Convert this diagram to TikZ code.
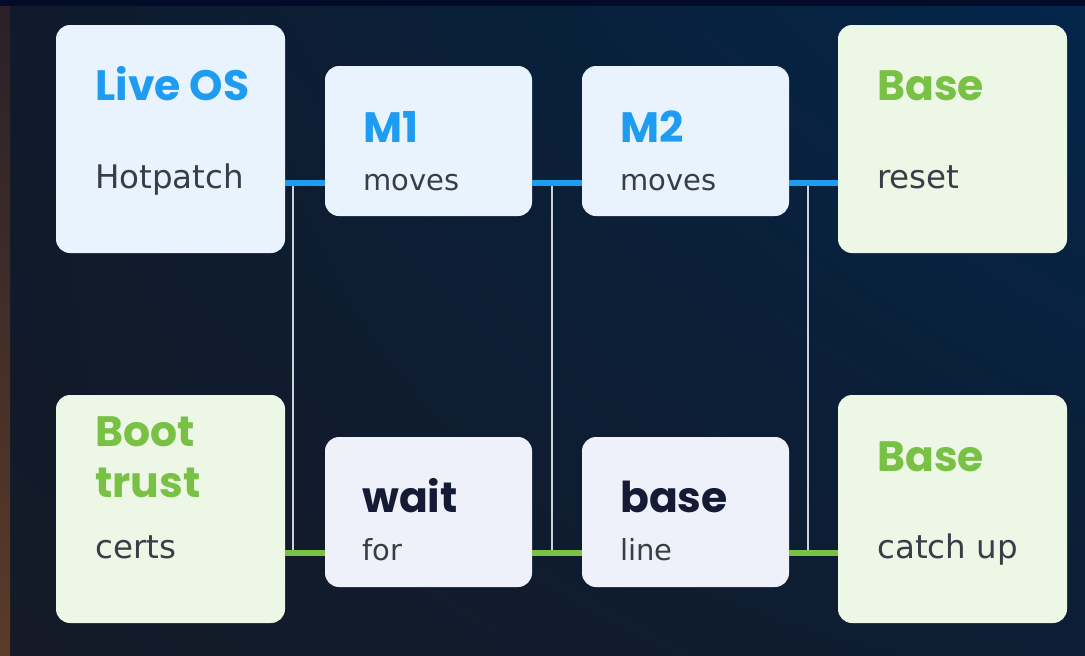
\documentclass[tikz,border=0pt]{standalone}
\usepackage{fontspec}
\usetikzlibrary{shadings}
\newfontfamily\ttlfont{Poppins}
\newfontfamily\subfont{DejaVu Sans}
\definecolor{bgUL}{HTML}{0F1A2C}
\definecolor{bgUR}{HTML}{03264A}
\definecolor{bgLL}{HTML}{141A27}
\definecolor{bgLR}{HTML}{0D1D33}
\definecolor{stripTop}{HTML}{020B28}
\definecolor{edgeA}{HTML}{2A2029}
\definecolor{edgeM}{HTML}{4A3226}
\definecolor{edgeB}{HTML}{5B3B28}
\definecolor{fillBlue}{HTML}{E8F3FD}
\definecolor{fillGreen}{HTML}{ECF7E5}
\definecolor{fillGrey}{HTML}{EEF1FA}
\definecolor{accBlue}{HTML}{1E9CF2}
\definecolor{accGreen}{HTML}{78C144}
\definecolor{inkDark}{HTML}{151A35}
\definecolor{inkSub}{HTML}{383E48}
\definecolor{railGrey}{HTML}{CDD2DA}
\tikzset{
  card/.style={rectangle, rounded corners=14pt, inner sep=0pt, outer sep=0pt,
               anchor=north west, draw=none},
  bigcard/.style={card, minimum width=229pt, minimum height=228pt},
  smallcard/.style={card, minimum width=207pt, minimum height=150pt},
  ttl/.style={anchor=base west, inner sep=0pt, font=\ttlfont\bfseries\fontsize{42.5}{51}\selectfont},
  subbig/.style={anchor=base west, inner sep=0pt, text=inkSub, font=\subfont\fontsize{32.5}{38}\selectfont},
  subsmall/.style={anchor=base west, inner sep=0pt, text=inkSub, font=\subfont\fontsize{29}{35}\selectfont},
  blueln/.style={draw=accBlue, line width=5.5pt},
  greenln/.style={draw=accGreen, line width=5.5pt},
  rail/.style={draw=railGrey, line width=1.4pt}
}
\begin{document}
\begin{tikzpicture}[x=1pt, y=-1pt]
\useasboundingbox (0,0) rectangle (1085,656);
% backdrop
\shade[upper left=bgUL, upper right=bgUR, lower left=bgLL, lower right=bgLR]
  (10,6) rectangle (1085,656);
\shade[top color=edgeA, middle color=edgeM, bottom color=edgeB] (0,0) rectangle (10,656);
\fill[stripTop] (0,0) rectangle (1085,6);

% cards
\node[bigcard, fill=fillBlue] (live) at (56,25) {};
\node[smallcard, fill=fillBlue] (mone) at (325,66) {};
\node[smallcard, fill=fillBlue] (mtwo) at (582,66) {};
\node[bigcard, fill=fillGreen] (reset) at (838,25) {};
\node[bigcard, fill=fillGreen] (boot) at (56,395) {};
\node[smallcard, fill=fillGrey] (wait) at (325,437) {};
\node[smallcard, fill=fillGrey] (bline) at (582,437) {};
\node[bigcard, fill=fillGreen] (catch) at (838,395) {};

% rows and vertical rails
\coordinate (rowA) at (0,183);
\coordinate (rowB) at (0,553);
\coordinate (railA) at (293,0);
\coordinate (railB) at (552,0);
\coordinate (railC) at (808,0);
\draw[rail] (railA |- rowA) -- (railA |- rowB);
\draw[rail] (railB |- rowA) -- (railB |- rowB);
\draw[rail] (railC |- rowA) -- (railC |- rowB);

\draw[blueln] (live.east |- rowA) -- (mone.west |- rowA);
\draw[blueln] (mone.east |- rowA) -- (mtwo.west |- rowA);
\draw[blueln] (mtwo.east |- rowA) -- (reset.west |- rowA);
\draw[greenln] (boot.east |- rowB) -- (wait.west |- rowB);
\draw[greenln] (wait.east |- rowB) -- (bline.west |- rowB);
\draw[greenln] (bline.east |- rowB) -- (catch.west |- rowB);

% labels
\node[ttl, text=accBlue] (liveT) at (95,100) {Live OS};
\node[subbig] (liveS) at (95,188) {Hotpatch};
\node[ttl, text=accBlue] (moneT) at (363,142) {M1};
\node[subsmall] (moneS) at (363,190) {moves};
\node[ttl, text=accBlue] (mtwoT) at (620,142) {M2};
\node[subsmall] (mtwoS) at (620,190) {moves};
\node[ttl, text=accGreen] (resetT) at (877,100) {Base};
\node[subbig] (resetS) at (877,188) {reset};

\node[ttl, text=accGreen] (bootTa) at (95,446) {Boot};
\node[ttl, text=accGreen] (bootTb) at (95,497) {trust};
\node[subbig] (bootS) at (95,558) {certs};
\node[ttl, text=inkDark] (waitT) at (362,512) {wait};
\node[subsmall] (waitS) at (362,560) {for};
\node[ttl, text=inkDark] (blineT) at (620,512) {base};
\node[subsmall] (blineS) at (620,560) {line};
\node[ttl, text=accGreen] (catchT) at (877,471) {Base};
\node[subbig] (catchS) at (877,558) {catch up};
\end{tikzpicture}
\end{document}
